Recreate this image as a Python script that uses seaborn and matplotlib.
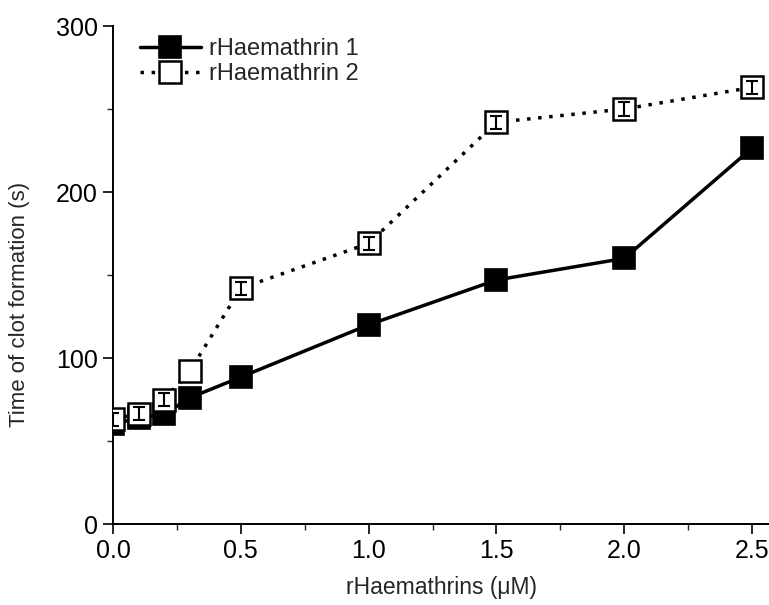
import matplotlib
matplotlib.use("Agg")
import matplotlib.pyplot as plt
import seaborn as sns
import pandas as pd
import numpy as np
from matplotlib.ticker import MultipleLocator

conc = [0.0, 0.1, 0.2, 0.3, 0.5, 1.0, 1.5, 2.0, 2.5]
series_names = ["rHaemathrin 1", "rHaemathrin 2"]
time1 = [60, 64, 66, 76, 88.5, 120, 147, 160, 226.5]
time2 = [63, 66.5, 75, 92, 142, 169, 242, 250, 263]
err1 = [4, 4, 4, 4, 4, 4, 4, 4, 4]
err2 = [4, 4, 4, 0, 4, 4, 4, 4, 4]
xticks = [0.0, 0.5, 1.0, 1.5, 2.0, 2.5]
yticks = [0, 100, 200, 300]

sns.set_style("ticks")
plt.rcParams['font.family'] = ['Liberation Sans', 'DejaVu Sans']

fig = plt.figure(figsize=(7.69, 6.05), dpi=100)
ax = fig.add_axes([113/769, 81/605, 1 - 113/769, (524-26)/605])

df1 = pd.DataFrame({"x": conc, "y": time1, "e": err1})
df2 = pd.DataFrame({"x": conc, "y": time2, "e": err2})
e1 = df1[df1["e"] > 0]
e2 = df2[df2["e"] > 0]

# series 1: filled squares, solid line
ax.errorbar(e1["x"], e1["y"], yerr=e1["e"], fmt="none", ecolor="black",
            elinewidth=1.5, capsize=4, capthick=1.5, zorder=2)
sns.lineplot(data=df1, x="x", y="y", ax=ax, color="black", linewidth=2.5,
             marker="s", markersize=16.5, markerfacecolor="black",
             markeredgecolor="black", markeredgewidth=1.2, label=series_names[0],
             zorder=3)
# series 2: open squares, dotted line
sns.lineplot(data=df2, x="x", y="y", ax=ax, color="black", linewidth=2.5,
             linestyle=(0, (1, 2.2)), marker="s", markersize=16.5,
             markerfacecolor="white", markeredgecolor="black",
             markeredgewidth=1.8, label=series_names[1], zorder=4)
ax.errorbar(e2["x"], e2["y"], yerr=e2["e"], fmt="none", ecolor="black",
            elinewidth=1.5, capsize=4, capthick=1.5, zorder=5)

ax.set_xlim(0, 2.566)
ax.set_ylim(0, 300)
ax.set_xticks(xticks)
ax.set_xticklabels([f"{t:.1f}" for t in xticks])
ax.set_yticks(yticks)
ax.xaxis.set_minor_locator(MultipleLocator(0.25))
ax.yaxis.set_minor_locator(MultipleLocator(50))
ax.tick_params(axis="both", which="major", direction="out", length=7, width=1.2,
               labelsize=18, colors="black", pad=4)
ax.tick_params(axis="both", which="minor", direction="out", length=4, width=1.0)
for s in ["top", "right"]:
    ax.spines[s].set_visible(False)
for s in ["left", "bottom"]:
    ax.spines[s].set_linewidth(1.4)
    ax.spines[s].set_color("black")

ax.set_xlabel("rHaemathrins (\u03bcM)", fontsize=16.5, labelpad=9)
ax.set_ylabel("Time of clot formation (s)", fontsize=16)
ax.yaxis.set_label_coords(-0.127, 0.44)

leg = ax.legend(loc="upper left", bbox_to_anchor=(0.026, 0.995), frameon=False,
                fontsize=17, handlelength=2.6, handletextpad=0.35,
                labelspacing=0.12, borderaxespad=0)

fig.savefig("out.png", dpi=100)
